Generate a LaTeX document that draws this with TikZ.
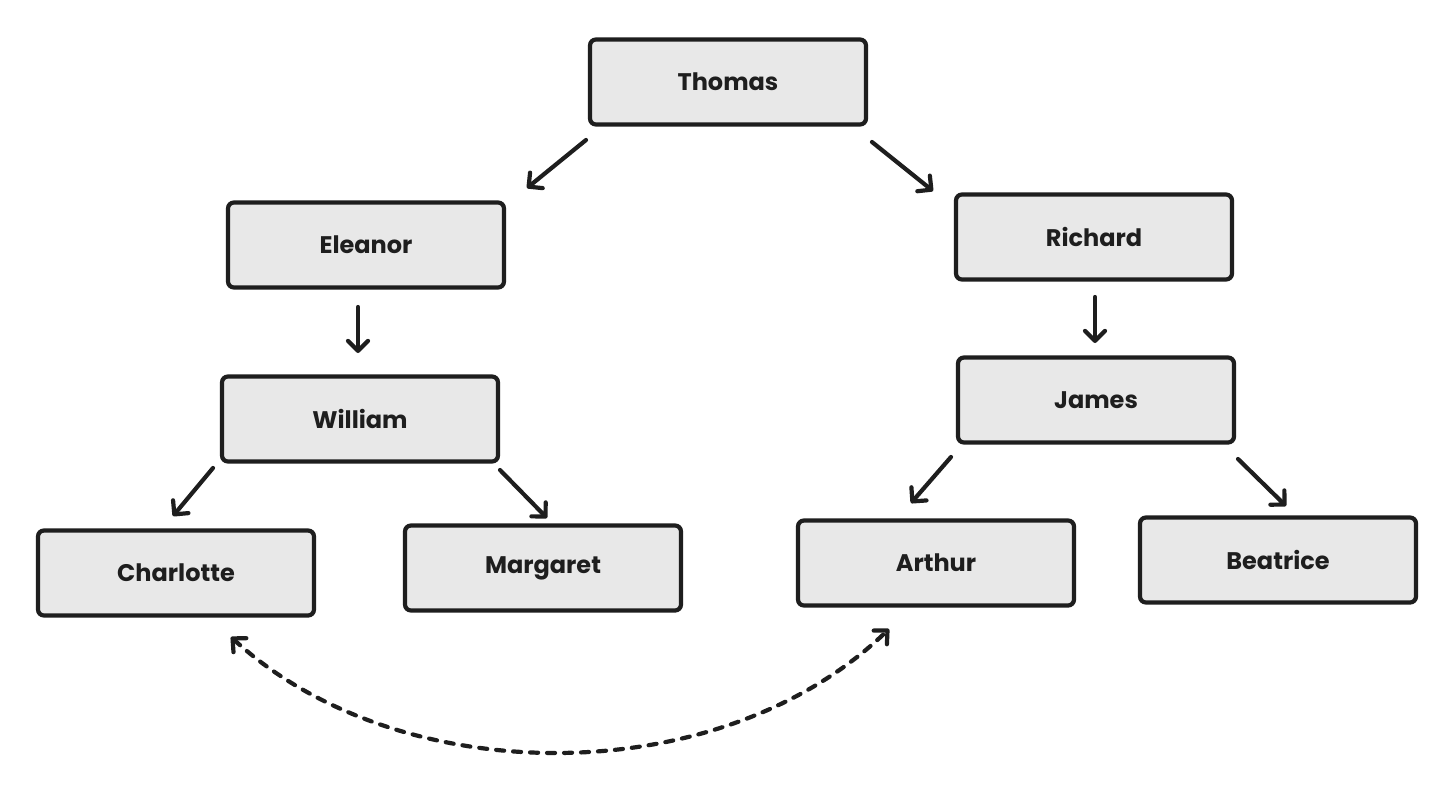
\documentclass[tikz,border=0pt]{standalone}
\usepackage{fontspec}
\setmainfont{Poppins}
\usetikzlibrary{arrows.meta}
\definecolor{boxfill}{HTML}{E8E8E8}
\definecolor{ink}{HTML}{1E1E1E}
\tikzset{
  person/.style={draw=ink, fill=boxfill, line width=4.2pt, rounded corners=6pt,
    minimum width=276pt, minimum height=85pt, inner sep=0pt,
    font=\fontsize{24}{28}\selectfont\bfseries, text=ink},
  link/.style={draw=ink, line width=4.2pt, line cap=round,
    -{Straight Barb[length=10pt,width=20pt,line width=4.2pt,round]}},
  relation/.style={draw=ink, line width=4.2pt, line cap=round, dash pattern=on 8pt off 9pt,
    {Straight Barb[length=10pt,width=19pt,line width=4.2pt,round]}-{Straight Barb[length=10pt,width=19pt,line width=4.2pt,round]}}
}
\begin{document}
\begin{tikzpicture}[x=1pt,y=-1pt]
\useasboundingbox (0,0) rectangle (1456,790);
\fill[white] (0,0) rectangle (1456,790);
\node[person] (T) at (728,82) {Thomas};
\node[person] (E) at (366,245) {Eleanor};
\node[person] (R) at (1094,237) {Richard};
\node[person] (W) at (360,419) {William};
\node[person] (J) at (1096,400) {James};
\node[person] (C) at (176,573) {Charlotte};
\node[person] (M) at (543,568) {Margaret};
\node[person] (A) at (936,563) {Arthur};
\node[person] (B) at (1278,560) {Beatrice};
% arrow end points
\coordinate (te1) at (586,140); \coordinate (te2) at (527,188);
\coordinate (tr1) at (872,142); \coordinate (tr2) at (933,191);
\coordinate (ew1) at (358,307); \coordinate (ew2) at (358,353);
\coordinate (rj1) at (1095,297); \coordinate (rj2) at (1095,343);
\coordinate (wc1) at (213,468); \coordinate (wc2) at (173,516);
\coordinate (wm1) at (500,470); \coordinate (wm2) at (547,518);
\coordinate (ja1) at (951,457); \coordinate (ja2) at (911,503);
\coordinate (jb1) at (1238,459); \coordinate (jb2) at (1286,506);
\coordinate (ca1) at (231,637); \coordinate (ca2) at (889,629);
\draw[link] (te1) -- (te2);
\draw[link] (tr1) -- (tr2);
\draw[link] (ew1) -- (ew2);
\draw[link] (rj1) -- (rj2);
\draw[link] (wc1) -- (wc2);
\draw[link] (wm1) -- (wm2);
\draw[link] (ja1) -- (ja2);
\draw[link] (jb1) -- (jb2);
\draw[relation] (ca1) .. controls (400,792) and (720,792) .. (ca2);
\end{tikzpicture}
\end{document}
